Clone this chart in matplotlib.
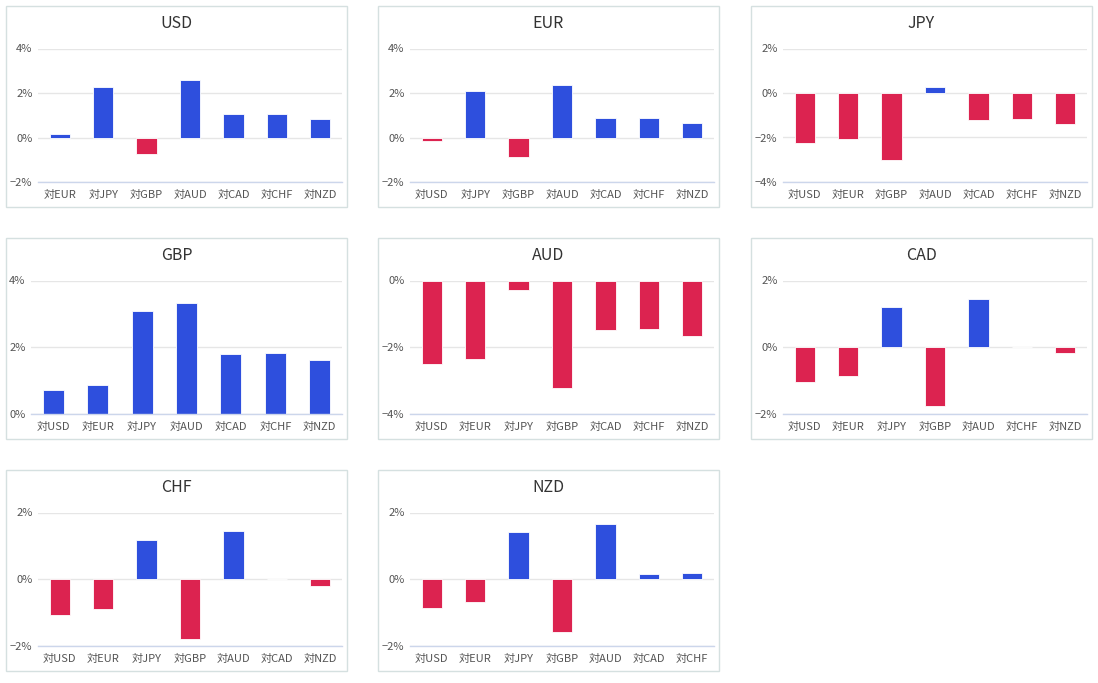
import matplotlib
matplotlib.use('Agg')
import matplotlib.pyplot as plt
import matplotlib.patches as pts
from matplotlib.ticker import FuncFormatter

plt.rcParams['font.family'] = ['Noto Sans CJK JP', 'DejaVu Sans']

# data (% change)
currencies = ['USD', 'EUR', 'JPY', 'GBP', 'AUD', 'CAD', 'CHF', 'NZD']
usd_labels = ['対EUR', '対JPY', '対GBP', '対AUD', '対CAD', '対CHF', '対NZD']
usd_values = [0.15, 2.29, -0.76, 2.57, 1.06, 1.06, 0.83]
eur_labels = ['対USD', '対JPY', '対GBP', '対AUD', '対CAD', '対CHF', '対NZD']
eur_values = [-0.17, 2.09, -0.89, 2.36, 0.87, 0.87, 0.65]
jpy_labels = ['対USD', '対EUR', '対GBP', '対AUD', '対CAD', '対CHF', '対NZD']
jpy_values = [-2.26, -2.08, -2.99, 0.25, -1.21, -1.17, -1.39]
gbp_labels = ['対USD', '対EUR', '対JPY', '対AUD', '対CAD', '対CHF', '対NZD']
gbp_values = [0.73, 0.88, 3.08, 3.32, 1.80, 1.83, 1.61]
aud_labels = ['対USD', '対EUR', '対JPY', '対GBP', '対CAD', '対CHF', '対NZD']
aud_values = [-2.51, -2.36, -0.29, -3.22, -1.49, -1.46, -1.67]
cad_labels = ['対USD', '対EUR', '対JPY', '対GBP', '対AUD', '対CHF', '対NZD']
cad_values = [-1.04, -0.86, 1.21, -1.76, 1.45, 0.0, -0.17]
chf_labels = ['対USD', '対EUR', '対JPY', '対GBP', '対AUD', '対CAD', '対NZD']
chf_values = [-1.07, -0.89, 1.18, -1.79, 1.45, 0.0, -0.20]
nzd_labels = ['対USD', '対EUR', '対JPY', '対GBP', '対AUD', '対CAD', '対CHF']
nzd_values = [-0.86, -0.68, 1.42, -1.58, 1.66, 0.16, 0.19]

# y axis ranges per panel
y_ticks = {
    'USD': [-2, 0, 2, 4], 'EUR': [-2, 0, 2, 4], 'JPY': [-4, -2, 0, 2],
    'GBP': [0, 2, 4], 'AUD': [-4, -2, 0], 'CAD': [-2, 0, 2],
    'CHF': [-2, 0, 2], 'NZD': [-2, 0, 2],
}
panel_data = {
    'USD': (usd_labels, usd_values), 'EUR': (eur_labels, eur_values),
    'JPY': (jpy_labels, jpy_values), 'GBP': (gbp_labels, gbp_values),
    'AUD': (aud_labels, aud_values), 'CAD': (cad_labels, cad_values),
    'CHF': (chf_labels, chf_values), 'NZD': (nzd_labels, nzd_values),
}

W, H = 1098, 683
BLUE = '#2e4fdd'
RED = '#dc2350'

fig = plt.figure(figsize=(W / 100, H / 100), dpi=100)
fig.patch.set_facecolor('white')

col_x = [6, 378, 751]
row_y = [6, 238, 470]
pw, ph = 341, 201

def pct(v, p):
    s = '%d%%' % abs(v)
    return '\u2212' + s if v < 0 else s

for i, cur in enumerate(currencies):
    px = col_x[i % 3]
    py = row_y[i // 3]
    labels, values = panel_data[cur]
    ticks = y_ticks[cur]

    # panel frame
    rect = pts.Rectangle((px / W, 1 - (py + ph) / H), pw / W, ph / H,
                         transform=fig.transFigure, fill=False,
                         edgecolor='#d5e0e0', linewidth=1)
    fig.patches.append(rect)

    # title
    fig.text((px + pw / 2) / W, 1 - (py + 17) / H, cur, ha='center', va='center',
             fontsize=11.5, color='#333333')

    left = 32 if ticks[0] < 0 else 25
    ax = fig.add_axes([(px + left) / W, 1 - (py + 176) / H,
                       (336 - left) / W, 133.5 / H])
    x = range(len(labels))
    colors = [BLUE if v >= 0 else RED for v in values]
    ax.bar(x, values, width=0.47, color=colors, edgecolor='white',
           linewidth=0.6, zorder=3)
    ax.set_xlim(-0.5, len(labels) - 0.5)
    ax.set_ylim(ticks[0], ticks[-1])
    ax.set_yticks(ticks)
    ax.yaxis.set_major_formatter(FuncFormatter(pct))
    ax.set_xticks(list(x))
    ax.set_xticklabels(labels)
    ax.grid(axis='y', color='#e6e6e6', linewidth=1, zorder=0)
    ax.set_axisbelow(True)
    for s in ['top', 'right', 'left']:
        ax.spines[s].set_visible(False)
    ax.spines['bottom'].set_color('#ccd6eb')
    ax.spines['bottom'].set_linewidth(1)
    ax.spines['bottom'].set_zorder(4)
    ax.tick_params(axis='both', length=0, labelsize=8, labelcolor='#555555')
    ax.tick_params(axis='x', pad=6)
    ax.tick_params(axis='y', pad=4)

fig.savefig('out.png', dpi=100, facecolor='white')
